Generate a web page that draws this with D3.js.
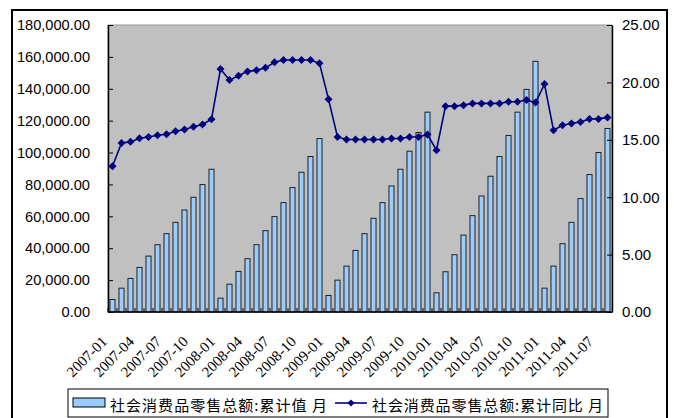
<!DOCTYPE html>
<html lang="zh">
<head>
<meta charset="UTF-8">
<title>社会消费品零售总额</title>
<script src="https://cdn.jsdelivr.net/npm/d3@7"></script>
<style>
  body { margin: 0; background: #fff; }
  svg { display: block; }
</style>
</head>
<body>
<div id="chart"></div>
<script>
// categories: month labels 2007-01 .. 2011-08
var years = ["2007", "2008", "2009", "2010", "2011"];
var monthNums = ["01","02","03","04","05","06","07","08","09","10","11","12"];
var months = [];
years.forEach(function(y) {
  monthNums.forEach(function(m) {
    if (y === "2011" && +m > 8) return;
    months.push(y + "-" + m);
  });
});

// cumulative value (left axis)
var cumValues = [
  7850, 14950, 21050, 27960, 35060, 42220, 49130, 56230, 63960, 71940, 79920, 89530,
  8670, 17470, 25450, 33430, 42220, 51020, 59810, 68610, 78030, 87650, 97510, 108820,
  10370, 19980, 28780, 38640, 49130, 58750, 68610, 79040, 89530, 100840, 112590, 125340,
  12060, 25260, 35940, 48250, 60440, 72760, 85140, 97510, 110710, 125340, 139610, 157200,
  14950, 28780, 42850, 56230, 71120, 86200, 100020, 115100
];

// cumulative yoy growth, % (right axis)
var yoyValues = [
  12.70, 14.73, 14.82, 15.14, 15.25, 15.40, 15.49, 15.75, 15.90, 16.13, 16.33, 16.80,
  21.16, 20.20, 20.58, 20.96, 21.05, 21.27, 21.75, 21.95, 21.95, 21.95, 21.95, 21.66,
  18.54, 15.25, 15.02, 15.02, 15.02, 15.02, 15.02, 15.11, 15.11, 15.25, 15.25, 15.46,
  14.09, 17.93, 17.93, 18.02, 18.17, 18.17, 18.17, 18.17, 18.31, 18.31, 18.46, 18.25,
  19.85, 15.84, 16.27, 16.42, 16.56, 16.82, 16.82, 16.95
];

var tickLabels = months.filter(function(d, i) { return i % 3 === 0; });
var leftTicks = [0, 20000, 40000, 60000, 80000, 100000, 120000, 140000, 160000, 180000];
var rightTicks = [0, 5, 10, 15, 20, 25];

var seriesNames = ["社会消费品零售总额:累计值  月", "社会消费品零售总额:累计同比  月"];

var width = 674, height = 418;
var plot = { left: 108, right: 612, top: 25, bottom: 312 };

var svg = d3.select("#chart").append("svg")
  .attr("width", width)
  .attr("height", height);

// outer frame
svg.append("rect")
  .attr("x", 12).attr("y", 10)
  .attr("width", 655).attr("height", 430)
  .attr("fill", "#fff")
  .attr("stroke", "#000")
  .attr("stroke-width", 2);

var x = d3.scaleBand()
  .domain(months)
  .range([plot.left, plot.right])
  .paddingInner(0.44)
  .paddingOuter(0.22);

var yLeft = d3.scaleLinear().domain([0, 180000]).range([plot.bottom, plot.top]);
var yRight = d3.scaleLinear().domain([0, 25]).range([plot.bottom, plot.top]);

// plot background
svg.append("rect")
  .attr("x", plot.left).attr("y", plot.top)
  .attr("width", plot.right - plot.left)
  .attr("height", plot.bottom - plot.top)
  .attr("fill", "#c0c0c0")
  .attr("stroke", "#999")
  .attr("stroke-width", 1);

// bars
svg.append("g").selectAll("rect")
  .data(cumValues)
  .enter().append("rect")
  .attr("x", function(d, i) { return x(months[i]); })
  .attr("y", function(d) { return yLeft(d); })
  .attr("width", x.bandwidth())
  .attr("height", function(d) { return yLeft(0) - yLeft(d); })
  .attr("fill", "#99ccff")
  .attr("stroke", "#222")
  .attr("stroke-width", 1);

// x axis line + boundary ticks
var step = x.step();
var gx = svg.append("g");
gx.append("line")
  .attr("x1", plot.left).attr("x2", plot.right)
  .attr("y1", plot.bottom).attr("y2", plot.bottom)
  .attr("stroke", "#000").attr("stroke-width", 1.5);
gx.selectAll("line.tick")
  .data(months)
  .enter().append("line")
  .attr("class", "tick")
  .attr("x1", function(d) { return x(d) - step * 0.22; })
  .attr("x2", function(d) { return x(d) - step * 0.22; })
  .attr("y1", plot.bottom)
  .attr("y2", plot.bottom - 4)
  .attr("stroke", "#000");

// x tick labels, rotated
gx.selectAll("text")
  .data(tickLabels)
  .enter().append("text")
  .attr("transform", function(d) {
    var cx = x(d) + x.bandwidth() / 2 - 8;
    return "translate(" + cx + ",339) rotate(-45)";
  })
  .attr("text-anchor", "end")
  .attr("dominant-baseline", "central")
  .style("font-family", "'Liberation Serif', 'Times New Roman', serif")
  .style("font-size", "15px")
  .attr("fill", "#000")
  .text(function(d) { return d; });

// left axis
var axL = svg.append("g")
  .attr("transform", "translate(" + plot.left + ",0)")
  .call(d3.axisLeft(yLeft).tickValues(leftTicks)
    .tickFormat(d3.format(",.2f"))
    .tickSizeInner(-5).tickSizeOuter(0).tickPadding(18));
axL.selectAll("text")
  .style("font-family", "'Liberation Sans', Arial, sans-serif")
  .style("font-size", "14.6px")
  .attr("fill", "#000");
axL.select(".domain").attr("stroke", "#000").attr("stroke-width", 1.5);

// right axis
var axR = svg.append("g")
  .attr("transform", "translate(" + plot.right + ",0)")
  .call(d3.axisRight(yRight).tickValues(rightTicks)
    .tickFormat(d3.format(".2f"))
    .tickSizeInner(-5).tickSizeOuter(0).tickPadding(10));
axR.selectAll("text")
  .style("font-family", "'Liberation Sans', Arial, sans-serif")
  .style("font-size", "15px")
  .attr("fill", "#000");
axR.select(".domain").attr("stroke", "#000").attr("stroke-width", 1.5);

// yoy line
var line = d3.line()
  .x(function(d, i) { return x(months[i]) + x.bandwidth() / 2; })
  .y(function(d) { return yRight(d); });

svg.append("path")
  .datum(yoyValues)
  .attr("d", line)
  .attr("fill", "none")
  .attr("stroke", "#000080")
  .attr("stroke-width", 1.6);

var diamond = "M0,-4L4,0L0,4L-4,0Z";
svg.append("g").selectAll("path")
  .data(yoyValues)
  .enter().append("path")
  .attr("d", diamond)
  .attr("transform", function(d, i) {
    return "translate(" + (x(months[i]) + x.bandwidth() / 2) + "," + yRight(d) + ")";
  })
  .attr("fill", "#000080");

// legend
var lg = svg.append("g");
lg.append("rect")
  .attr("x", 68).attr("y", 389)
  .attr("width", 540).attr("height", 28)
  .attr("fill", "#fff")
  .attr("stroke", "#000")
  .attr("stroke-width", 1);
lg.append("rect")
  .attr("x", 73).attr("y", 398)
  .attr("width", 32).attr("height", 9)
  .attr("fill", "#99ccff")
  .attr("stroke", "#000");
lg.append("text")
  .attr("x", 110).attr("y", 404)
  .attr("dominant-baseline", "central")
  .attr("textLength", 217)
  .attr("lengthAdjust", "spacing")
  .style("font-family", "'Noto Sans CJK SC', sans-serif")
  .style("font-size", "15px")
  .text(seriesNames[0]);
lg.append("line")
  .attr("x1", 335).attr("x2", 367)
  .attr("y1", 403).attr("y2", 403)
  .attr("stroke", "#000080").attr("stroke-width", 1.6);
lg.append("path")
  .attr("d", "M0,-3.5L3.5,0L0,3.5L-3.5,0Z")
  .attr("transform", "translate(351,403)")
  .attr("fill", "#000080");
lg.append("text")
  .attr("x", 372).attr("y", 404)
  .attr("dominant-baseline", "central")
  .attr("textLength", 231)
  .attr("lengthAdjust", "spacing")
  .style("font-family", "'Noto Sans CJK SC', sans-serif")
  .style("font-size", "15px")
  .text(seriesNames[1]);
</script>
</body>
</html>
